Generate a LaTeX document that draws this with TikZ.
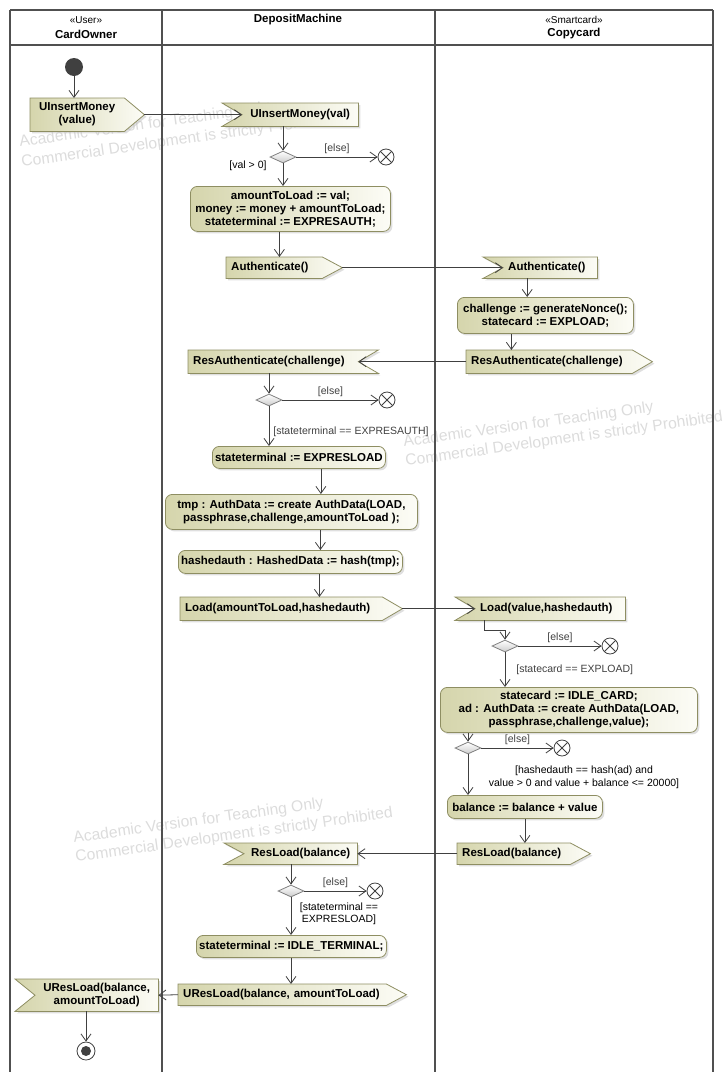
\documentclass[tikz,border=0pt]{standalone}
\usepackage{fontspec}
\setmainfont{Liberation Sans}
\usetikzlibrary{arrows.meta}
\usetikzlibrary{calc}
\usetikzlibrary{shapes.geometric}
\usetikzlibrary{shadows}
\definecolor{lane}{HTML}{505050}
\definecolor{wire}{HTML}{404040}
\definecolor{olive}{HTML}{8E8E62}
\definecolor{khaki}{HTML}{D5D5AC}
\definecolor{paper}{HTML}{FCFCF6}
\definecolor{wmgray}{HTML}{DCDCDC}
\pgfdeclarelayer{wm}
\pgfdeclarelayer{sig}
\pgfsetlayers{wm,sig,main}
\tikzset{
  flow/.style = {wire, line width=0.8pt, -{Straight Barb[length=7pt, width=10pt]}},
  laneline/.style = {lane, line width=1.6pt},
  actbox/.style = {draw=olive, line width=0.8pt, rounded corners=7pt, left color=khaki, right color=paper,
    drop shadow={shadow xshift=2pt, shadow yshift=-2pt, fill=black!25}, inner sep=0pt,
    align=center, anchor=north west, font=\bfseries\fontsize{11.5}{13}\selectfont},
  sigtext/.style = {inner xsep=5pt, inner ysep=0pt, anchor=north west, font=\bfseries\fontsize{11.5}{13}\selectfont},
  sigbox/.style = {draw=olive, line width=0.8pt, left color=khaki, right color=paper,
    drop shadow={shadow xshift=2pt, shadow yshift=-2pt, fill=black!25}},
  guard/.style = {font=\fontsize{10.5}{12.5}\selectfont, inner sep=1pt},
  decide/.style = {diamond, draw=black!50, line width=0.8pt, top color=white, bottom color=black!20,
    minimum width=26pt, minimum height=12pt, inner sep=0pt},
  flowend/.style = {circle, draw=wire, fill=white, line width=0.8pt, minimum size=16pt, inner sep=0pt,
    path picture={\draw[wire, line width=0.8pt] (path picture bounding box.north west) -- (path picture bounding box.south east)
      (path picture bounding box.north east) -- (path picture bounding box.south west);}},
  start/.style = {circle, fill=wire, minimum size=18pt, inner sep=0pt},
  finish/.style = {circle, draw=wire, fill=white, line width=0.8pt, minimum size=18pt, inner sep=0pt,
    path picture={\fill[wire] (path picture bounding box.center) circle (5pt);}},
  wmark/.style = {wmgray, font=\fontsize{15.7}{18}\selectfont, rotate=8, anchor=base west, inner sep=0pt},
  head/.style = {font=\bfseries\fontsize{11.5}{13}\selectfont},
  stereo/.style = {font=\fontsize{10}{12}\selectfont},
}
% send signal: point on the right
\newcommand\sendout[1]{%
  \begin{pgfonlayer}{sig}
    \path[sigbox] (#1.north west) -- (#1.north east) -- ($(#1.east)+(20pt,0)$) -- (#1.south east) -- (#1.south west) -- cycle;
  \end{pgfonlayer}
  \coordinate (#1-tip) at ($(#1.east)+(20pt,0)$);}
% accept event: notch on the left
\newcommand\acceptl[1]{%
  \begin{pgfonlayer}{sig}
    \path[sigbox] (#1.north east) -- ($(#1.north west)+(-20pt,0)$) -- (#1.west) -- ($(#1.south west)+(-20pt,0)$) -- (#1.south east) -- cycle;
  \end{pgfonlayer}}
% accept event: notch on the right
\newcommand\acceptr[1]{%
  \begin{pgfonlayer}{sig}
    \path[sigbox] (#1.north west) -- ($(#1.north east)+(20pt,0)$) -- (#1.east) -- ($(#1.south east)+(20pt,0)$) -- (#1.south west) -- cycle;
  \end{pgfonlayer}}

\begin{document}
\begin{tikzpicture}[x=1pt, y=-1pt]
  \useasboundingbox (0,0) rectangle (723,1082);
  % watermark
  \begin{pgfonlayer}{wm}
    \node[wmark] (wm1a) at (20,147) {Academic Version for Teaching Only};
    \node[wmark] (wm1b) at (22,167) {Commercial Development is strictly Prohibited};
    \node[wmark] (wm2a) at (404,447) {Academic Version for Teaching Only};
    \node[wmark] (wm2b) at (406,466) {Commercial Development is strictly Prohibited};
    \node[wmark] (wm3a) at (74,843) {Academic Version for Teaching Only};
    \node[wmark] (wm3b) at (76,862) {Commercial Development is strictly Prohibited};
  \end{pgfonlayer}
  % swimlanes
  \draw[laneline] (10,10) -- (713,10);
  \draw[laneline] (10,45) -- (713,45);
  \foreach \x in {10, 162, 435, 713} {
    \draw[laneline] (\x,10) -- (\x,1072);
  }
  \node[stereo] (stUser) at (86,20) {«User»};
  \node[head] (hdOwner) at (86,34) {CardOwner};
  \node[head] (hdMachine) at (298,20) {DepositMachine};
  \node[stereo] (stCard) at (574,20) {«Smartcard»};
  \node[head] (hdCard) at (574,34) {Copycard};

  % CardOwner / DepositMachine
  \node[start] (init) at (74,67) {};
  \node[sigtext, text width=84pt, minimum height=33pt, align=center] (sUIns) at (30,98) {UInsertMoney\\(value)};
  \sendout{sUIns}
  \node[sigtext, text width=106pt, minimum height=23pt, align=center] (aUIns) at (242,103) {UInsertMoney(val)};
  \acceptl{aUIns}
  \node[decide] (d1) at (283,157) {};
  \node[flowend] (ff1) at (386,157) {};
  \node[guard] (g1) at (248,166) {[val > 0]};
  \node[actbox, minimum width=200pt, minimum height=45pt] (act1) at (190,186)
    {amountToLoad := val;\\money := money + amountToLoad;\\stateterminal := EXPRESAUTH;};
  \node[sigtext, text width=86pt, minimum height=21pt, align=left] (sAuth) at (226,257) {Authenticate()};
  \sendout{sAuth}

  % Copycard
  \node[sigtext, text width=84pt, minimum height=21pt, align=left] (aAuth) at (503,257) {Authenticate()};
  \acceptl{aAuth}
  \node[actbox, minimum width=176pt, minimum height=36pt] (act2) at (457,297)
    {challenge := generateNonce();\\statecard := EXPLOAD;};
  \node[sigtext, text width=156pt, minimum height=23pt, align=left] (sResAuth) at (466,350) {ResAuthenticate(challenge)};
  \sendout{sResAuth}

  % DepositMachine
  \node[sigtext, text width=160pt, minimum height=23pt, align=left] (aResAuth) at (188,350) {ResAuthenticate(challenge)};
  \acceptr{aResAuth}
  \node[decide] (d2) at (269,400) {};
  \node[flowend] (ff2) at (387,400) {};
  \node[actbox, minimum width=173pt, minimum height=22pt] (act3) at (212,446) {stateterminal := EXPRESLOAD};
  \node[actbox, minimum width=252pt, minimum height=35pt] (act4) at (165,494)
    {tmp : AuthData := create AuthData(LOAD,\\passphrase,challenge,amountToLoad );};
  \node[actbox, minimum width=224pt, minimum height=23pt] (act5) at (178,550) {hashedauth : HashedData := hash(tmp);};
  \node[sigtext, text width=192pt, minimum height=23pt, align=left] (sLoad) at (180,597) {Load(amountToLoad,hashedauth)};
  \sendout{sLoad}

  % Copycard
  \node[sigtext, text width=140pt, minimum height=23pt, align=left] (aLoad) at (475,597) {Load(value,hashedauth)};
  \acceptl{aLoad}
  \node[decide] (d3) at (505,646) {};
  \node[flowend] (ff3) at (610,646) {};
  \node[actbox, minimum width=257pt, minimum height=45pt] (act6) at (440,687)
    {statecard := IDLE\_CARD;\\ad : AuthData := create AuthData(LOAD,\\passphrase,challenge,value);};
  \node[decide] (d4) at (468,748) {};
  \node[flowend] (ff4) at (562,748) {};
  \node[guard, align=center] (g4) at (584,777.5) {[hashedauth == hash(ad) and\\value > 0 and value + balance <= 20000]};
  \node[actbox, minimum width=155pt, minimum height=23pt] (act7) at (447,795) {balance := balance + value};
  \node[sigtext, text width=103pt, minimum height=21pt, align=left] (sResLoad) at (457,843) {ResLoad(balance)};
  \sendout{sResLoad}

  % DepositMachine / CardOwner
  \node[sigtext, text width=103pt, minimum height=21pt, align=center] (aResLoad) at (244,843) {ResLoad(balance)};
  \acceptl{aResLoad}
  \node[decide] (d5) at (291,891) {};
  \node[flowend] (ff5) at (375,891) {};
  \node[guard, align=center] (g5) at (339,914) {[stateterminal ==\\EXPRESLOAD]};
  \node[actbox, minimum width=190pt, minimum height=22pt] (act8) at (196,935) {stateterminal := IDLE\_TERMINAL;};
  \node[sigtext, text width=198pt, minimum height=21pt, align=left] (sUResLoad) at (178,984) {UResLoad(balance, amountToLoad)};
  \sendout{sUResLoad}
  \node[sigtext, text width=113pt, minimum height=32pt, align=center] (aUResLoad) at (35,979) {UResLoad(balance,\\amountToLoad)};
  \acceptl{aUResLoad}
  \node[finish] (final) at (86,1051) {};

  % control flow
  \draw[flow] (init) -- (init |- sUIns.north);
  \draw[flow] (sUIns-tip) -- (aUIns.west);
  \draw[flow] (aUIns.south -| d1) -- (d1.north);
  \draw[flow] (d1.east) -- (ff1.west) node[guard, midway, above=2pt] {[else]};
  \draw[flow] (d1.south) -- (act1.north -| d1);
  \draw[flow] ([xshift=-11pt]act1.south) -- ([xshift=-11pt]act1.south |- sAuth.north);
  \draw[flow] (sAuth-tip) -- (aAuth.west);
  \draw[flow] ([xshift=-23pt]aAuth.south) -- ([xshift=-23pt]aAuth.south |- act2.north);
  \draw[flow] ([xshift=-34pt]act2.south) -- ([xshift=-34pt]act2.south |- sResAuth.north);
  \draw[flow] (sResAuth.west) -- (aResAuth.east);
  \draw[flow] (aResAuth.south -| d2) -- (d2.north);
  \draw[flow] (d2.east) -- (ff2.west) node[guard, midway, above=2pt] {[else]};
  \draw[flow] (d2.south) -- (act3.north -| d2) node[guard, pos=0.65, right, xshift=3pt] {[stateterminal == EXPRESAUTH]};
  \draw[flow] ([xshift=22pt]act3.south) -- ([xshift=22pt]act3.south |- act4.north);
  \draw[flow] ([xshift=29pt]act4.south) -- ([xshift=29pt]act4.south |- act5.north);
  \draw[flow] ([xshift=29pt]act5.south) -- ([xshift=29pt]act5.south |- sLoad.north);
  \draw[flow] (sLoad-tip) -- (aLoad.west);
  \draw[flow] ([xshift=9pt]aLoad.south west) -- ++(0,10) -| (d3.north);
  \draw[flow] (d3.east) -- (ff3.west) node[guard, midway, above=2pt] {[else]};
  \draw[flow] (d3.south) -- (act6.north -| d3) node[guard, midway, right, xshift=10pt] {[statecard == EXPLOAD]};
  \draw[flow] (act6.south -| d4) -- (d4.north);
  \draw[flow] (d4.east) -- (ff4.west) node[guard, midway, above=2pt] {[else]};
  \draw[flow] (d4.south) -- (act7.north -| d4);
  \draw[flow] (act7.south) -- (act7.south |- sResLoad.north);
  \draw[flow] (sResLoad.west) -- (aResLoad.east);
  \draw[flow] (aResLoad.south -| d5) -- (d5.north);
  \draw[flow] (d5.east) -- (ff5.west) node[guard, midway, above=2pt] {[else]};
  \draw[flow] (d5.south) -- (act8.north -| d5);
  \draw[flow] (d5 |- act8.south) -- (d5 |- sUResLoad.north);
  \draw[flow] (sUResLoad.west) -- (aUResLoad.east);
  \draw[flow] (aUResLoad.south -| final) -- (final.north);
\end{tikzpicture}
\end{document}
